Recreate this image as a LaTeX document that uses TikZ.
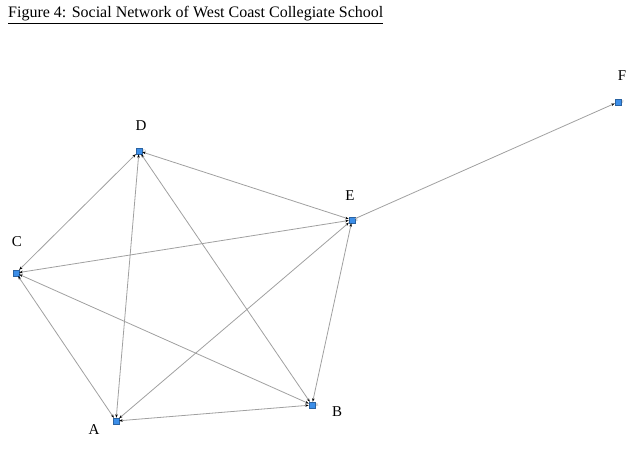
\documentclass[tikz,border=0pt]{standalone}
\usepackage{fontspec}
\setmainfont{Liberation Serif}
\usetikzlibrary{arrows.meta}
\definecolor{nodeblue}{HTML}{3C8EE8}
\definecolor{edgegray}{HTML}{A0A0A0}
\tikzset{
  actor/.style={rectangle, draw=nodeblue!70!black, fill=nodeblue, line width=0.4pt, minimum size=5.5pt, inner sep=0pt},
  tiny/.style={font=\fontsize{4}{4}\selectfont, text=gray!70, inner sep=0pt, anchor=west},
  biglabel/.style={font=\fontsize{15}{17}\selectfont, inner sep=0pt},
  tie/.style={draw=edgegray, line width=0.8pt, {Stealth[length=3.5pt,width=2.5pt,black]}-{Stealth[length=3.5pt,width=2.5pt,black]}, shorten <=0.3pt, shorten >=0.3pt},
  onetie/.style={draw=edgegray, line width=0.8pt, -{Stealth[length=3.5pt,width=2.5pt,black]}, shorten >=0.3pt},
}
\begin{document}
\begin{tikzpicture}[x=1pt,y=-1pt]
\useasboundingbox (0,0) rectangle (643,452);
\node[anchor=base west, inner sep=0pt, font=\fontsize{16}{18}\selectfont] (title) at (8,18) {\underline{Figure 4: Social Network of West Coast Collegiate School}};
\node[actor] (D) at (139,151) {};
\node[actor] (E) at (352,220) {};
\node[actor] (F) at (618,102) {};
\node[actor] (C) at (16,273) {};
\node[actor] (A) at (116,421) {};
\node[actor] (B) at (312,405) {};
\node[tiny] (d) at (D.east) {\,D};
\node[tiny] (e) at (E.east) {\,E};
\node[tiny] (f) at (F.east) {\,F};
\node[tiny] (c) at (C.east) {\,C};
\node[tiny] (a) at (A.east) {\,A};
\node[tiny] (b) at (B.east) {\,B};
\node[biglabel] (LD) at (141,126) {D};
\node[biglabel] (LE) at (350,196) {E};
\node[biglabel] (LF) at (622,76) {F};
\node[biglabel] (LC) at (17,242) {C};
\node[biglabel] (LA) at (94,430) {A};
\node[biglabel] (LB) at (337,412) {B};
\draw[tie] (D) -- (E);
\draw[tie] (D) -- (A);
\draw[tie] (D) -- (B);
\draw[tie] (D) -- (C);
\draw[tie] (C) -- (E);
\draw[tie] (A) -- (E);
\draw[tie] (B) -- (E);
\draw[tie] (C) -- (A);
\draw[tie] (C) -- (B);
\draw[tie] (A) -- (B);
\draw[onetie] (E) -- (F);
\end{tikzpicture}
\end{document}
